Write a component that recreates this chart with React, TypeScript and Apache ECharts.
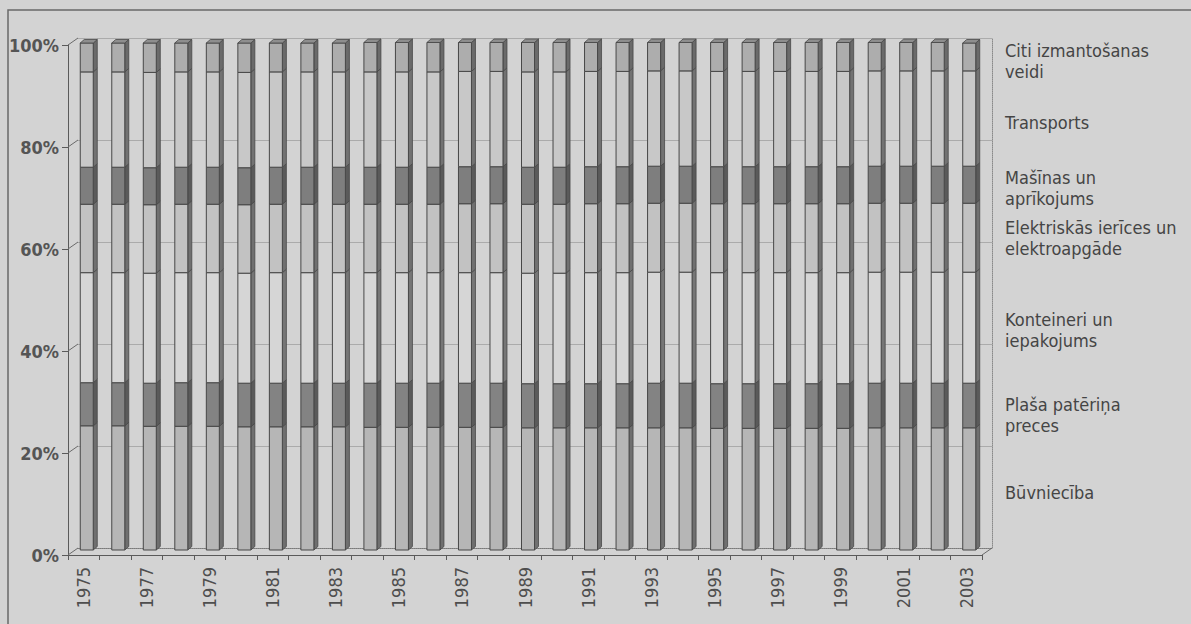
import React, { useEffect, useRef } from "react";
import * as echarts from "echarts";

const years = [
  "1975","1976","1977","1978","1979","1980","1981","1982","1983","1984",
  "1985","1986","1987","1988","1989","1990","1991","1992","1993","1994",
  "1995","1996","1997","1998","1999","2000","2001","2002","2003",
];

const yTicks = [0, 20, 40, 60, 80, 100];

// shares in %, bottom to top
const buvnieciba = [24.5,24.5,24.4,24.4,24.4,24.3,24.3,24.3,24.3,24.2,24.2,24.2,24.2,24.2,24.1,24.1,24.1,24.1,24.1,24.1,24.0,24.0,24.0,24.0,24.0,24.1,24.1,24.1,24.1];
const plasaPaterina = [8.5,8.5,8.5,8.6,8.6,8.6,8.6,8.6,8.6,8.7,8.7,8.7,8.7,8.7,8.7,8.7,8.7,8.7,8.8,8.8,8.8,8.8,8.8,8.8,8.8,8.8,8.8,8.8,8.8];
const konteineri = [21.7,21.7,21.7,21.7,21.7,21.7,21.8,21.8,21.8,21.8,21.8,21.8,21.8,21.8,21.8,21.8,21.9,21.9,21.9,21.9,21.9,21.9,21.9,21.9,21.9,21.9,21.9,21.9,21.9];
const elektriskas = [13.5,13.5,13.5,13.5,13.5,13.5,13.5,13.5,13.5,13.5,13.5,13.5,13.6,13.6,13.6,13.6,13.6,13.6,13.6,13.6,13.6,13.6,13.6,13.6,13.6,13.6,13.6,13.6,13.6];
const masinas = [7.3,7.3,7.3,7.3,7.3,7.3,7.3,7.3,7.3,7.3,7.3,7.3,7.3,7.3,7.3,7.3,7.3,7.3,7.3,7.3,7.3,7.3,7.3,7.3,7.3,7.3,7.3,7.3,7.3];
const transports = [18.8,18.8,18.8,18.8,18.8,18.8,18.8,18.8,18.8,18.8,18.8,18.8,18.8,18.8,18.8,18.8,18.8,18.8,18.8,18.8,18.8,18.8,18.8,18.8,18.8,18.8,18.8,18.8,18.8];
const citi = [5.7,5.7,5.8,5.7,5.7,5.8,5.7,5.7,5.7,5.8,5.8,5.8,5.7,5.7,5.8,5.8,5.7,5.7,5.6,5.6,5.7,5.7,5.7,5.7,5.7,5.6,5.6,5.6,5.5];

const seriesNames = [
  "Būvniecība",
  "Plaša patēriņa preces",
  "Konteineri un iepakojums",
  "Elektriskās ierīces un elektroapgāde",
  "Mašīnas un aprīkojums",
  "Transports",
  "Citi izmantošanas veidi",
];
const seriesValues = [buvnieciba, plasaPaterina, konteineri, elektriskas, masinas, transports, citi];

const legendLabels = [
  "Citi izmantošanas\nveidi",
  "Transports",
  "Mašīnas un\naprīkojums",
  "Elektriskās ierīces un\nelektroapgāde",
  "Konteineri un\niepakojums",
  "Plaša patēriņa\npreces",
  "Būvniecība",
];

const FONT = "'Liberation Sans Narrow', 'Arial Narrow', 'DejaVu Sans Condensed', 'Liberation Sans', sans-serif";

const fills = ["#b6b6b6", "#838383", "#d6d6d6", "#c2c2c2", "#7e7e7e", "#c8c8c8", "#adadad"];
const sides = ["#6f6f6f", "#5a5a5a", "#767676", "#707070", "#5a5a5a", "#727272", "#6a6a6a"];

export default function App() {
  const ref = useRef<HTMLDivElement>(null);

  useEffect(() => {
    const chart = echarts.init(ref.current!, null, { renderer: "svg" });

    const barSeries = seriesValues.map((vals, si) => {
      const data = vals.map((v, i) => {
        let base = 0;
        for (let k = 0; k < si; k++) base += seriesValues[k][i];
        return [i, base, base + v];
      });
      const isTop = si === seriesValues.length - 1;
      return {
        type: "custom",
        name: seriesNames[si],
        xAxisIndex: 2,
        yAxisIndex: 2,
        encode: { x: 0, y: [1, 2] },
        data,
        z: 5,
        renderItem: (params: any, api: any) => {
          const x = api.value(0);
          const b = api.coord([x, api.value(1)]);
          const t = api.coord([x, api.value(2)]);
          const W = 13, D = 4, H = 3.5;
          const L = b[0] - 6.5;
          const children: any[] = [
            {
              type: "polygon",
              shape: { points: [[L + W, t[1]], [L + W + D, t[1] - H], [L + W + D, b[1] - H], [L + W, b[1]]] },
              style: { fill: sides[si], stroke: "#474747", lineWidth: 0.8 },
            },
            {
              type: "rect",
              shape: { x: L, y: t[1], width: W, height: b[1] - t[1] },
              style: { fill: fills[si], stroke: "#474747", lineWidth: 1 },
            },
          ];
          if (isTop) {
            children.push({
              type: "polygon",
              shape: { points: [[L, t[1]], [L + D, t[1] - H], [L + W + D, t[1] - H], [L + W, t[1]]] },
              style: { fill: "#8e8e8e", stroke: "#474747", lineWidth: 0.8 },
            });
          }
          return { type: "group", children };
        },
      };
    });

    const connectorSeries = {
      type: "custom",
      xAxisIndex: 0,
      yAxisIndex: 0,
      encode: { x: 0, y: 1 },
      data: yTicks.map((v) => [0, v]),
      z: 1,
      renderItem: (params: any, api: any) => {
        const p = api.coord([0, api.value(1)]);
        const bw = api.size([1, 0])[0];
        const left = p[0] - bw / 2;
        const children: any[] = [
          { type: "line", shape: { x1: left, y1: p[1], x2: left + 10, y2: p[1] - 7 }, style: { stroke: "#6a6a6a", lineWidth: 1 } },
        ];
        if (api.value(1) === 0) {
          const r = api.coord([years.length - 1, 0]);
          const right = r[0] + bw / 2;
          children.push({ type: "line", shape: { x1: right, y1: r[1], x2: right + 10, y2: r[1] - 7 }, style: { stroke: "#6a6a6a", lineWidth: 1 } });
        }
        return { type: "group", children };
      },
    };

    const legendY = [61, 122, 188, 238, 330, 415, 492];

    const option: any = {
      animation: false,
      backgroundColor: "#d3d3d3",
      textStyle: { fontFamily: FONT },
      grid: [
        { left: 68, right: 209, top: 45, bottom: 69 },
        { left: 78, right: 199, top: 38, bottom: 76 },
        { left: 71, right: 206, top: 43, bottom: 74 },
      ],
      xAxis: [
        {
          type: "category",
          gridIndex: 0,
          data: years,
          boundaryGap: true,
          axisLine: { show: true, lineStyle: { color: "#5a5a5a", width: 1 } },
          axisTick: { show: true, interval: 0, length: 5, lineStyle: { color: "#5a5a5a" } },
          axisLabel: {
            interval: 1,
            rotate: 90,
            margin: 12,
            fontSize: 18,
            color: "#4e4e4e",
            fontFamily: FONT,
          },
          splitLine: { show: false },
        },
        {
          type: "category",
          gridIndex: 1,
          data: years,
          axisLine: { show: true, lineStyle: { color: "#7a7a7a", type: "dotted", width: 1 } },
          axisTick: { show: false },
          axisLabel: { show: false },
          splitLine: { show: false },
        },
        {
          type: "category",
          gridIndex: 2,
          data: years,
          show: false,
        },
      ],
      yAxis: [
        {
          type: "value",
          gridIndex: 0,
          min: 0,
          max: 100,
          interval: 20,
          axisLine: { show: true, lineStyle: { color: "#5a5a5a", width: 1 } },
          axisTick: { show: true, length: 6, lineStyle: { color: "#5a5a5a" } },
          axisLabel: {
            formatter: "{value}%",
            margin: 9,
            fontSize: 18,
            fontWeight: "bold",
            color: "#555555",
            fontFamily: FONT,
          },
          splitLine: { show: false },
        },
        {
          type: "value",
          gridIndex: 1,
          position: "right",
          min: 0,
          max: 100,
          interval: 20,
          axisLine: { show: true, lineStyle: { color: "#8a8a8a", type: "dotted", width: 1 } },
          axisTick: { show: false },
          axisLabel: { show: false },
          splitLine: { show: true, lineStyle: { color: "#ababab", width: 1 } },
        },
        {
          type: "value",
          gridIndex: 2,
          min: 0,
          max: 100,
          show: false,
          splitLine: { show: false },
        },
      ],
      graphic: [
        {
          type: "rect",
          shape: { x: 8, y: 10, width: 1250, height: 700 },
          style: { fill: "none", stroke: "#6a6a6a", lineWidth: 1.5 },
          silent: true,
          z: 0,
        },
        ...legendLabels.map((t, i) => ({
          type: "text",
          x: 1005,
          y: legendY[i],
          style: {
            text: t,
            fontSize: 18,
            lineHeight: 21,
            fill: "#454545",
            fontFamily: FONT,
            verticalAlign: "middle",
            align: "left",
          },
        })),
      ],
      series: [connectorSeries, ...barSeries],
    };

    chart.setOption(option);
    return () => chart.dispose();
  }, []);

  return (
    <div
      ref={ref}
      style={{ position: "fixed", left: 0, top: 0, width: 1191, height: 624, background: "#d3d3d3" }}
    />
  );
}
